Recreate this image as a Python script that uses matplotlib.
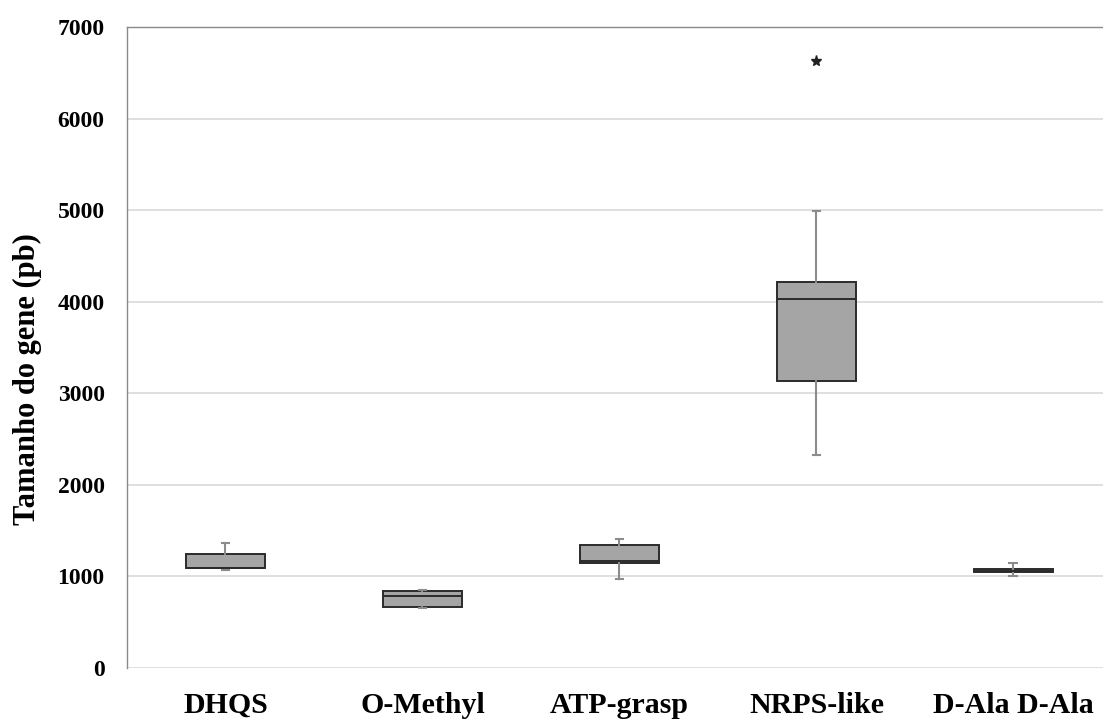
import matplotlib
matplotlib.use("Agg")
import matplotlib.pyplot as plt

# Gene length distributions per enzyme family (bp)
categories = ["DHQS", "O-Methyl", "ATP-grasp", "NRPS-like", "D-Ala D-Ala"]
whisker_low = [1070, 652, 975, 2326, 1005]
q1 = [1092, 663, 1143, 3131, 1052]
median = [1094, 786, 1165, 4026, 1063]
q3 = [1242, 841, 1343, 4212, 1076]
whisker_high = [1368, 852, 1405, 4994, 1150]
outliers = [[], [], [], [6629], []]

yticks = [0, 1000, 2000, 3000, 4000, 5000, 6000, 7000]

stats = []
for i, name in enumerate(categories):
    stats.append({
        "label": name,
        "whislo": whisker_low[i],
        "q1": q1[i],
        "med": median[i],
        "q3": q3[i],
        "whishi": whisker_high[i],
        "fliers": outliers[i],
    })

fig = plt.figure(figsize=(11.03, 7.2), dpi=100)
ax = fig.add_axes([0.1151, 0.0722, 0.893, 0.8903])

ax.bxp(
    stats,
    positions=range(len(categories)),
    widths=0.4,
    capwidths=0.04,
    patch_artist=True,
    boxprops=dict(facecolor="#a5a5a5", edgecolor="#2b2b2b", linewidth=1.4),
    medianprops=dict(color="#2b2b2b", linewidth=1.4),
    whiskerprops=dict(color="#8c8c8c", linewidth=1.5),
    capprops=dict(color="#8c8c8c", linewidth=1.5),
    flierprops=dict(marker="*", markersize=8, markerfacecolor="#222222",
                    markeredgecolor="#222222", linestyle="none"),
    zorder=3,
)

ax.set_xlim(-0.5, len(categories) - 0.5)
ax.set_ylim(0, 7000)
ax.set_yticks(yticks)
ax.set_yticklabels([str(t) for t in yticks])
ax.yaxis.grid(True, color="#d9d9d9", linewidth=1.2)
ax.set_axisbelow(True)

for side in ["right", "bottom"]:
    ax.spines[side].set_visible(False)
for side in ["left", "top"]:
    ax.spines[side].set_color("#8a8a8a")
    ax.spines[side].set_linewidth(1.0)

serif = ["Liberation Serif", "DejaVu Serif"]
ax.tick_params(axis="both", length=0)
ax.tick_params(axis="y", pad=16)
ax.tick_params(axis="x", pad=17)
for lbl in ax.get_yticklabels():
    lbl.set_fontfamily(serif)
    lbl.set_fontweight("bold")
    lbl.set_fontsize(17)
for lbl in ax.get_xticklabels():
    lbl.set_fontfamily(serif)
    lbl.set_fontweight("bold")
    lbl.set_fontsize(21.5)

ax.set_ylabel("Tamanho do gene (pb)", fontfamily=serif, fontweight="bold",
              fontsize=22, labelpad=16)
ax.yaxis.set_label_coords(-0.086, 0.45)

fig.savefig("out.png", dpi=100)
